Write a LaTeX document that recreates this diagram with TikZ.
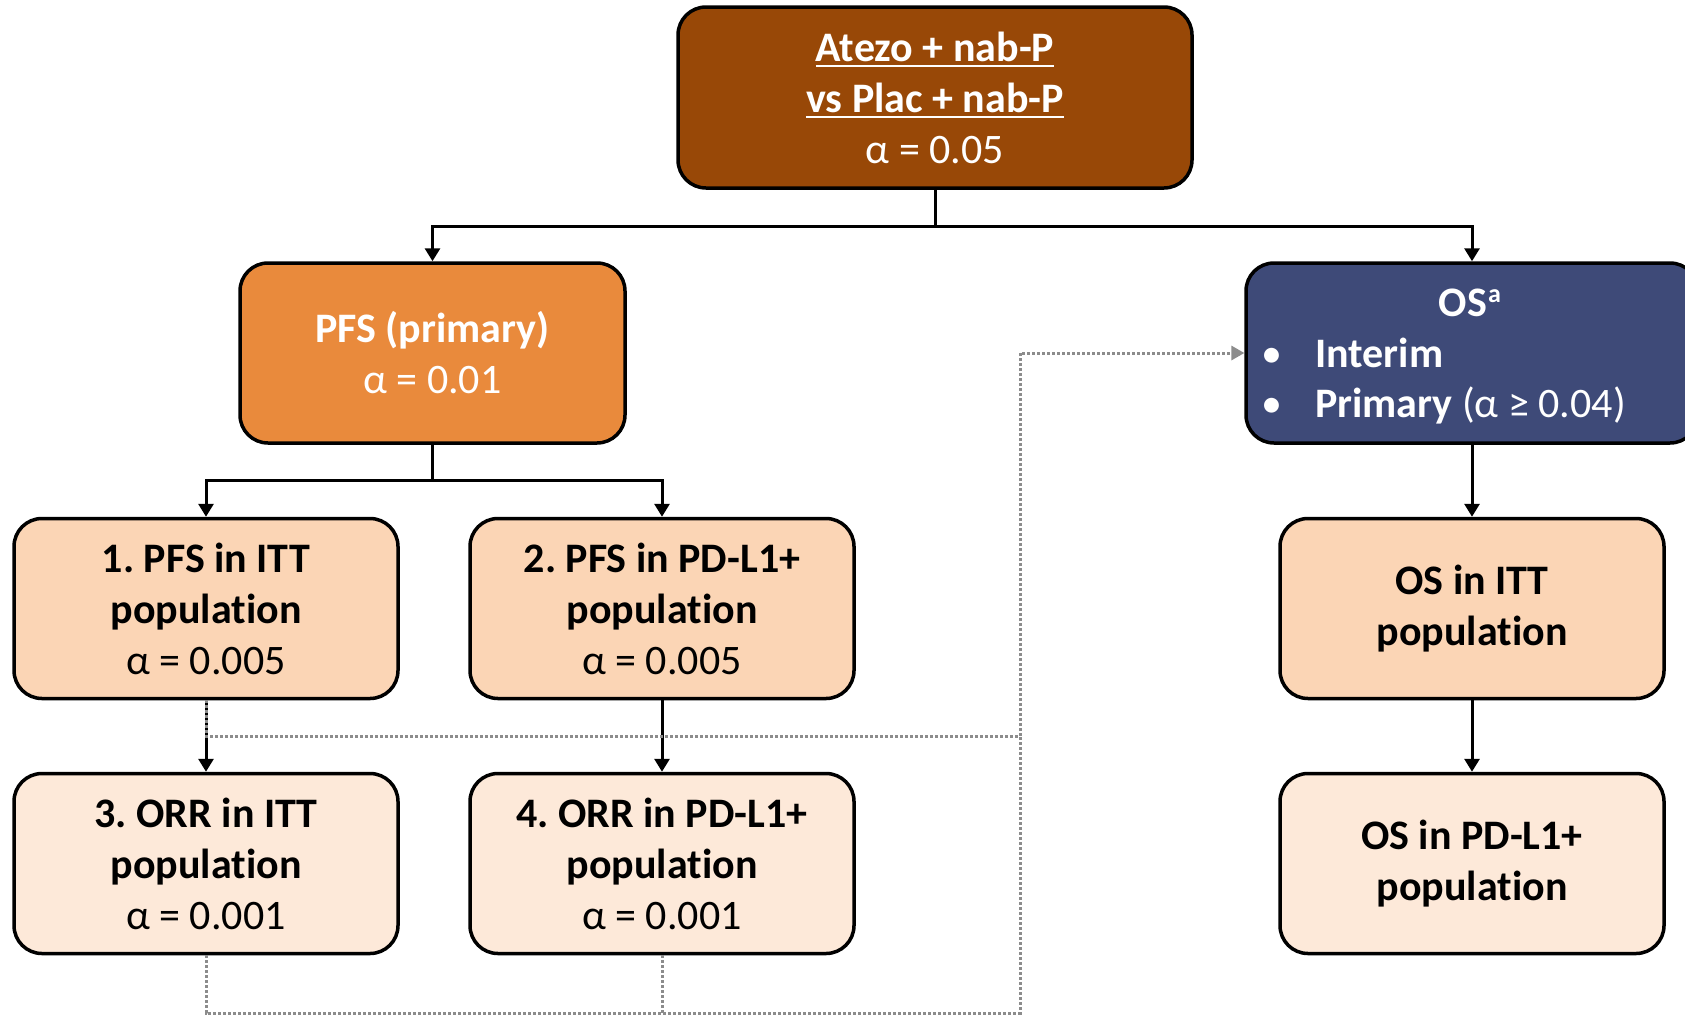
\documentclass[tikz,border=0pt]{standalone}
\usepackage{fontspec}
\setmainfont{Carlito}[Ligatures=NoCommon]
\usetikzlibrary{arrows.meta}
\definecolor{brownbox}{RGB}{152,72,7}
\definecolor{pfsbox}{RGB}{233,138,60}
\definecolor{lightA}{RGB}{251,213,181}
\definecolor{lightB}{RGB}{253,233,217}
\definecolor{osbox}{RGB}{62,74,120}
\definecolor{dotgray}{RGB}{140,140,140}
\frenchspacing
\newsavebox\ulbox
\newcommand\myul[1]{\sbox\ulbox{#1}\rlap{\usebox\ulbox}\rule[-6pt]{\wd\ulbox}{2.5pt}}
\tikzset{
  box/.style={draw=black, line width=3.5pt, rounded corners=28pt, minimum width=384pt,
    minimum height=180pt, align=center, inner sep=0pt, font=\fontsize{42}{51}\selectfont},
  arr/.style={draw=black, line width=3pt, -{Triangle[length=13pt,width=15pt]}},
  plainline/.style={draw=black, line width=3pt},
  dotline/.style={draw=dotgray, line width=3pt, dash pattern=on 3pt off 2pt},
  dotarr/.style={dotline, -{Triangle[length=13pt,width=15pt,fill=dotgray,line width=0pt]}},
  ostext/.style={text=white, inner sep=0pt, font=\fontsize{42}{51}\selectfont},
}
\begin{document}
\begin{tikzpicture}[x=1pt,y=-1pt]
\useasboundingbox (0,0) rectangle (1685,1017);
\clip (0,0) rectangle (1685,1017);
\fill[white] (0,0) rectangle (1685,1017);

\node[box, fill=brownbox, text=white, minimum width=514pt, minimum height=181pt] (top) at (935,97.5)
  {\textbf{\myul{Atezo + nab-P}}\\\textbf{\myul{vs Plac + nab-P}}\\α = 0.05};
\node[box, fill=pfsbox, text=white, minimum width=385pt] (pfs) at (432.5,353)
  {\textbf{PFS (primary)}\\α = 0.01};
\node[box, fill=osbox, minimum width=452pt] (os) at (1472,353) {};
\node[ostext, anchor=base] (ostitle) at (1470,316) {\textbf{OS}\kern1pt\raisebox{14pt}{\fontsize{26}{26}\selectfont\bfseries a}};
\node[ostext, anchor=base] (bul1) at (1272,367) {•};
\node[ostext, anchor=base] (bul2) at (1272,417) {•};
\node[ostext, anchor=base west] (int) at (1315,367) {\textbf{Interim}};
\node[ostext, anchor=base west] (prim) at (1315,417) {\textbf{Primary} (α ≥ 0.04)};

\node[box, fill=lightA] (b1) at (206,608.5) {\textbf{1. PFS in ITT}\\\textbf{population}\\α = 0.005};
\node[box, fill=lightA] (b2) at (662,608.5) {\textbf{2. PFS in PD-L1+}\\\textbf{population}\\α = 0.005};
\node[box, fill=lightA] (o1) at (1472,608.5) {\textbf{OS in ITT}\\\textbf{population}};
\node[box, fill=lightB] (b3) at (206,863.5) {\textbf{3. ORR in ITT}\\\textbf{population}\\α = 0.001};
\node[box, fill=lightB] (b4) at (662,863.5) {\textbf{4. ORR in PD-L1+}\\\textbf{population}\\α = 0.001};
\node[box, fill=lightB] (o2) at (1472,863.5) {\textbf{OS in PD-L1+}\\\textbf{population}};

\coordinate (hub) at (935,226);
\coordinate (ph) at (432.5,480);
\coordinate (dm) at (1020,736);
\coordinate (db) at (1020,1013);

\draw[plainline] (top.south) -- (hub);
\draw[arr] (hub) -| (pfs.north);
\draw[arr] (hub) -| (os.north);
\draw[plainline] (pfs.south) -- (ph);
\draw[arr] (ph) -| (b1.north);
\draw[arr] (ph) -| (b2.north);
\draw[arr] (b1.south) -- (b3.north);
\draw[arr] (b2.south) -- (b4.north);
\draw[arr] (os.south) -- (o1.north);
\draw[arr] (o1.south) -- (o2.north);

\draw[dotline] (b1.south) |- (dm);
\draw[dotarr] (dm) |- (os.west);
\draw[dotline] (b3.south) |- (db) -- (dm);
\draw[dotline] (b4.south) -- (b4.south |- db);
\end{tikzpicture}
\end{document}
